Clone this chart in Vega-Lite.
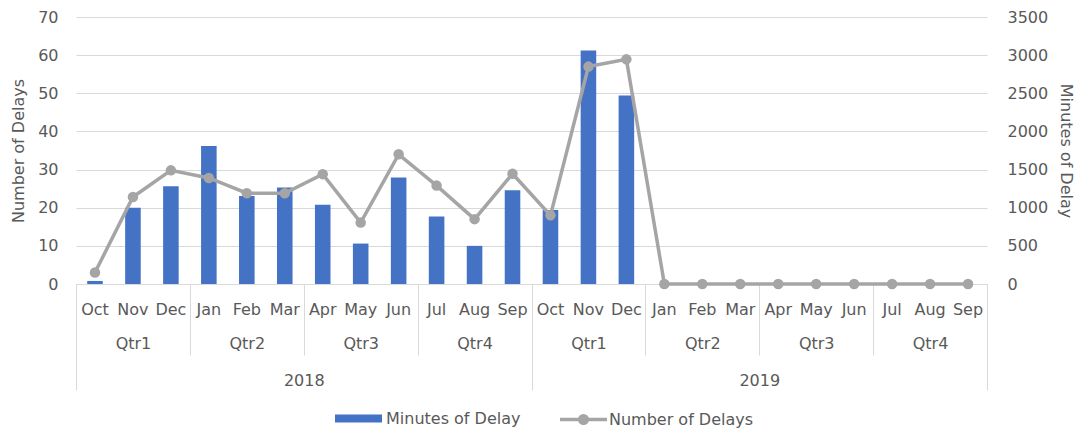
{
  "$schema": "https://vega.github.io/schema/vega-lite/v6.json",
  "width": 911,
  "height": 267,
  "autosize": {"type": "none"},
  "padding": {"left": 76, "top": 17, "right": 94, "bottom": 145},
  "background": "white",
  "config": {
    "font": "DejaVu Sans",
    "view": {"stroke": null},
    "axis": {
      "labelFont": "DejaVu Sans",
      "titleFont": "DejaVu Sans",
      "labelColor": "#595959",
      "titleColor": "#595959",
      "labelFontSize": 16,
      "titleFontSize": 16,
      "titleFontWeight": "normal"
    },
    "legend": {
      "labelFont": "DejaVu Sans",
      "labelFontSize": 16,
      "labelColor": "#595959"
    }
  },
  "data": {
    "values": [
      {"year": "2018", "quarter": "2018 Qtr1", "month": "2018 Qtr1 Oct", "minutes": 0.8, "delays": 150},
      {"year": "2018", "quarter": "2018 Qtr1", "month": "2018 Qtr1 Nov", "minutes": 20.0, "delays": 1140},
      {"year": "2018", "quarter": "2018 Qtr1", "month": "2018 Qtr1 Dec", "minutes": 25.6, "delays": 1490},
      {"year": "2018", "quarter": "2018 Qtr2", "month": "2018 Qtr2 Jan", "minutes": 36.2, "delays": 1390},
      {"year": "2018", "quarter": "2018 Qtr2", "month": "2018 Qtr2 Feb", "minutes": 23.1, "delays": 1190},
      {"year": "2018", "quarter": "2018 Qtr2", "month": "2018 Qtr2 Mar", "minutes": 25.3, "delays": 1190},
      {"year": "2018", "quarter": "2018 Qtr3", "month": "2018 Qtr3 Apr", "minutes": 20.8, "delays": 1440},
      {"year": "2018", "quarter": "2018 Qtr3", "month": "2018 Qtr3 May", "minutes": 10.6, "delays": 805},
      {"year": "2018", "quarter": "2018 Qtr3", "month": "2018 Qtr3 Jun", "minutes": 27.9, "delays": 1700},
      {"year": "2018", "quarter": "2018 Qtr4", "month": "2018 Qtr4 Jul", "minutes": 17.7, "delays": 1290},
      {"year": "2018", "quarter": "2018 Qtr4", "month": "2018 Qtr4 Aug", "minutes": 10.0, "delays": 850},
      {"year": "2018", "quarter": "2018 Qtr4", "month": "2018 Qtr4 Sep", "minutes": 24.6, "delays": 1445},
      {"year": "2019", "quarter": "2019 Qtr1", "month": "2019 Qtr1 Oct", "minutes": 19.4, "delays": 900},
      {"year": "2019", "quarter": "2019 Qtr1", "month": "2019 Qtr1 Nov", "minutes": 61.2, "delays": 2850},
      {"year": "2019", "quarter": "2019 Qtr1", "month": "2019 Qtr1 Dec", "minutes": 49.4, "delays": 2945},
      {"year": "2019", "quarter": "2019 Qtr2", "month": "2019 Qtr2 Jan", "minutes": 0, "delays": 0},
      {"year": "2019", "quarter": "2019 Qtr2", "month": "2019 Qtr2 Feb", "minutes": 0, "delays": 0},
      {"year": "2019", "quarter": "2019 Qtr2", "month": "2019 Qtr2 Mar", "minutes": 0, "delays": 0},
      {"year": "2019", "quarter": "2019 Qtr3", "month": "2019 Qtr3 Apr", "minutes": 0, "delays": 0},
      {"year": "2019", "quarter": "2019 Qtr3", "month": "2019 Qtr3 May", "minutes": 0, "delays": 0},
      {"year": "2019", "quarter": "2019 Qtr3", "month": "2019 Qtr3 Jun", "minutes": 0, "delays": 0},
      {"year": "2019", "quarter": "2019 Qtr4", "month": "2019 Qtr4 Jul", "minutes": 0, "delays": 0},
      {"year": "2019", "quarter": "2019 Qtr4", "month": "2019 Qtr4 Aug", "minutes": 0, "delays": 0},
      {"year": "2019", "quarter": "2019 Qtr4", "month": "2019 Qtr4 Sep", "minutes": 0, "delays": 0}
    ]
  },
  "layer": [
    {
      "mark": {"type": "bar", "width": {"band": 0.41}},
      "encoding": {
        "x": {
          "field": "month", "type": "nominal", "sort": null,
          "scale": {"paddingInner": 0, "paddingOuter": 0},
          "axis": {
            "orient": "bottom", "title": null, "labelAngle": 0,
            "labelExpr": "split(datum.label, ' ')[2]",
            "ticks": false, "grid": false, "domainColor": "#d9d9d9",
            "labelPadding": 25, "labelBaseline": "middle"
          }
        },
        "y": {
          "field": "minutes", "type": "quantitative",
          "scale": {"domain": [0, 70]},
          "axis": {
            "orient": "left", "title": "Number of Delays",
            "values": [0, 10, 20, 30, 40, 50, 60, 70],
            "grid": true, "gridColor": "#d9d9d9", "domain": false, "ticks": false,
            "labelPadding": 18, "titlePadding": 11
          }
        },
        "color": {
          "datum": "Minutes of Delay", "type": "nominal",
          "scale": {"range": ["#4472c4"]},
          "legend": {
            "title": null, "orient": "none", "direction": "horizontal",
            "legendX": 258, "legendY": 377,
            "symbolType": "M-1,-0.17H1V0.17H-1Z",
            "symbolSize": 2209, "labelOffset": 3
          }
        }
      }
    },
    {
      "mark": {"type": "line", "strokeWidth": 3.5},
      "encoding": {
        "x": {
          "field": "month", "type": "nominal", "sort": null,
          "scale": {"paddingInner": 0, "paddingOuter": 0},
          "axis": null
        },
        "y": {
          "field": "delays", "type": "quantitative",
          "scale": {"domain": [0, 3500]},
          "axis": {
            "orient": "right", "title": "Minutes of Delay",
            "values": [0, 500, 1000, 1500, 2000, 2500, 3000, 3500],
            "format": "d",
            "grid": false, "domain": false, "ticks": false,
            "labelPadding": 20, "titlePadding": 10
          }
        },
        "stroke": {
          "datum": "Number of Delays", "type": "nominal",
          "scale": {"range": ["#a5a5a5"]},
          "legend": {
            "title": null, "orient": "none", "direction": "horizontal",
            "legendX": 482, "legendY": 377,
            "symbolType": "M-1,0H1M-0.16,0A0.16,0.16 0 1,0 0.16,0A0.16,0.16 0 1,0 -0.16,0Z",
            "symbolSize": 2209, "symbolStrokeWidth": 3.5,
            "symbolFillColor": "#a5a5a5", "labelOffset": 0
          }
        }
      }
    },
    {
      "mark": {"type": "point", "filled": true, "size": 110, "color": "#a5a5a5", "opacity": 1},
      "encoding": {
        "x": {
          "field": "month", "type": "nominal", "sort": null,
          "scale": {"paddingInner": 0, "paddingOuter": 0},
          "axis": null
        },
        "y": {
          "field": "delays", "type": "quantitative",
          "scale": {"domain": [0, 3500]},
          "axis": null
        }
      }
    },
    {
      "mark": {"type": "point", "opacity": 0},
      "encoding": {
        "x": {
          "field": "quarter", "type": "nominal", "sort": null,
          "scale": {"paddingInner": 0, "paddingOuter": 0},
          "axis": {
            "orient": "bottom", "title": null, "labelAngle": 0,
            "labelExpr": "split(datum.label, ' ')[1]",
            "domain": false, "grid": false,
            "ticks": true, "tickBand": "extent", "tickSize": 71, "tickColor": "#d9d9d9",
            "labelPadding": -12, "labelBaseline": "middle"
          }
        }
      }
    },
    {
      "mark": {"type": "point", "opacity": 0},
      "encoding": {
        "x": {
          "field": "year", "type": "nominal", "sort": null,
          "scale": {"paddingInner": 0, "paddingOuter": 0},
          "axis": {
            "orient": "bottom", "title": null, "labelAngle": 0,
            "domain": false, "grid": false,
            "ticks": true, "tickBand": "extent", "tickSize": 106, "tickColor": "#d9d9d9",
            "labelPadding": -10, "labelBaseline": "middle"
          }
        }
      }
    }
  ],
  "resolve": {"scale": {"x": "independent", "y": "independent"}}
}
